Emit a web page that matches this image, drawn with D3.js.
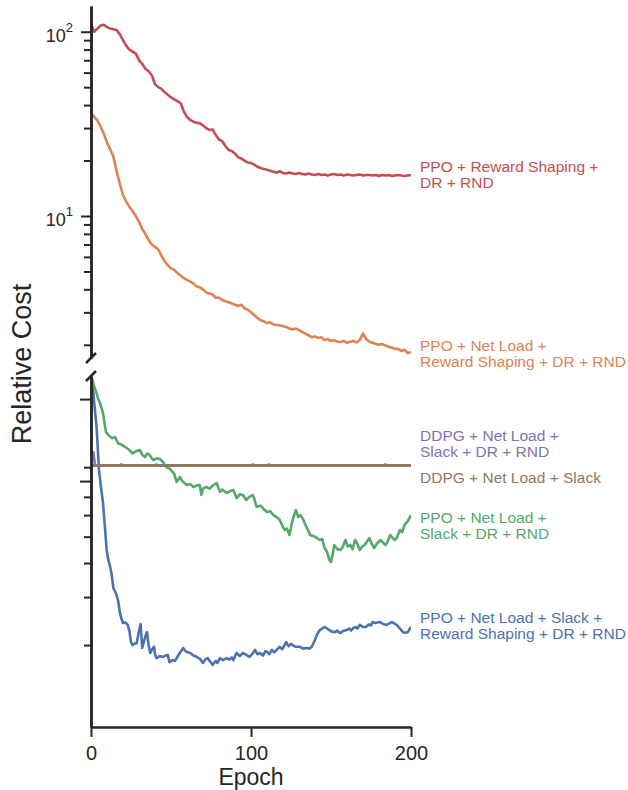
<!DOCTYPE html>
<html><head><meta charset="utf-8">
<script src="https://cdn.jsdelivr.net/npm/d3@7"></script>
<style>
body{margin:0;background:#fff}
text{font-family:"Liberation Sans",Arial,Helvetica,sans-serif}
</style>
</head><body>
<svg id="chart" width="628" height="790"></svg>
<script>
// ---------------- DATA ----------------
const seriesNames = [
  ["PPO + Reward Shaping +", "DR + RND"],
  ["PPO + Net Load +", "Reward Shaping + DR + RND"],
  ["DDPG + Net Load +", "Slack + DR + RND"],
  ["DDPG + Net Load + Slack"],
  ["PPO + Net Load +", "Slack + DR + RND"],
  ["PPO + Net Load + Slack +", "Reward Shaping + DR + RND"]
];
const colors = ["#c44e52", "#dd8452", "#8172b3", "#937860", "#55a868", "#4c72b0"];

// upper (log) panel series, sampled every 2 epochs
const epochs2 = d3.range(0, 201, 2);
const redValues = [110,100,104,108,109,106,104,103,102,97,90,84,80,78,76,70,67,63,61,58,
  52,50,49,47,45.5,44,43,42,41,37,34.5,33.2,32.5,32,31.9,31,30,29.3,29.5,27.5,
  26,25.5,24,22.8,22.5,21.8,20.8,20.5,20,19.5,19.4,19,18.5,18.2,18,17.8,17.6,17.4,17.2,17.5,
  17.1,17.0,17.2,17.0,16.9,17.1,16.9,16.8,17.0,16.8,16.7,16.9,16.7,16.8,16.6,16.8,16.9,16.7,16.8,16.6,
  16.8,16.7,16.6,16.7,16.8,16.6,16.7,16.7,16.6,16.7,16.5,16.7,16.6,16.7,16.5,16.6,16.7,16.6,16.5,16.6,16.7];
const orangeValues = [36,34.5,33,30.5,28,25,23,21,17.5,15,13,12,11.2,10.6,10,9.3,8.5,8,7.4,7,
  6.8,6.6,6.1,5.7,5.4,5.2,5.1,4.9,4.75,4.6,4.5,4.4,4.3,4.15,4.1,4.0,3.85,3.8,3.75,3.6,
  3.6,3.5,3.45,3.4,3.35,3.3,3.25,3.3,3.15,3.1,3.0,2.9,2.8,2.72,2.68,2.62,2.65,2.58,2.56,2.55,
  2.52,2.5,2.45,2.42,2.45,2.4,2.35,2.3,2.25,2.2,2.22,2.18,2.2,2.12,2.15,2.1,2.12,2.08,2.07,2.1,
  2.05,2.08,2.1,2.06,2.12,2.3,2.15,2.08,2.05,2.02,2.0,2.02,1.98,1.95,1.93,1.9,1.9,1.85,1.88,1.8,1.83];

// lower (log) panel series
const purpleEpochs = [0,1.5,2.5,18,19,20,40,41,42,100,101,102,110,111,112,183,184,185,200];
const purpleValues = [10.2,10.2,9.14,9.14,9.22,9.14,9.14,9.2,9.14,9.14,9.2,9.14,9.14,9.2,9.14,9.14,9.2,9.14,9.14];
const brownEpochs = [0,200];
const brownValues = [9.12,9.12];

const greenEpochs = [0,1,2,3.5,4.5,5.6,6.5,7.5,8.5,9.4,11,13,15,17,19,20,22,24,26,28,30.6,32,33.8,35,36.5,38,39,41,43,45,
  47,49,51,52,53.5,55.6,57,59.8,62,64,66,68,69,70,72,74,76,78.5,80.6,82,84.8,87,89,91,93,95,97,99,101,102,
  103.5,106,108,110,112,114,116,118,119.5,121,122.5,124,126,128,129.5,131,132.5,134,135.5,137,140,143,144.5,146,147.5,149,150,151,152,154,
  156,157.5,159,160.5,162,163.5,165,166.5,168,169.5,171,172.5,174,175.5,177,178.5,181,182.5,184,185.5,187,188.5,190,191.5,193,194.5,196,198,200];
const greenValues = [19.3,18.8,17.8,16.85,16.0,15.5,14.9,14.2,13.0,12.1,11.8,11.5,11.6,11.0,10.9,10.8,10.6,10.4,10.1,10.3,10.4,10.0,9.8,10.1,10.0,9.7,9.56,9.7,9.64,9.4,
  9.0,8.9,8.64,8.5,7.94,8.28,8.0,7.74,7.8,7.61,7.7,7.74,7.11,7.5,7.61,7.5,7.7,7.87,7.30,7.45,7.23,7.35,7.42,6.93,7.15,7.11,6.82,7.0,7.11,6.9,
  6.43,6.5,6.3,6.16,6.2,6.0,5.9,5.76,5.5,5.29,5.35,5.07,5.76,6.26,5.9,6.0,5.8,5.52,5.3,5.07,5.0,4.86,4.9,4.54,4.4,4.11,4.04,4.3,4.66,4.5,
  4.47,4.6,4.86,4.6,4.66,4.5,4.86,4.7,4.47,4.6,4.66,4.8,4.94,4.7,4.54,4.7,4.86,4.75,4.66,4.8,5.07,4.95,4.86,5.0,5.29,5.2,5.52,5.7,6.0];

const blueEpochs = [0,1,2,3.5,5,6,7.5,8.5,9.8,10.8,12,13,14,15,16,17,18,19,20,21.5,23,24,25,26,27,28.5,30,31,32,33,
  34,35,36,37,38,39.4,40,41,43,45,46.5,48,49,51,52.5,53.5,55,57.6,59,60.5,62,64,66,68,70,71.5,73,74.5,76,78,
  79,80.6,82.5,84.8,86.5,88,89,90,91,93,95,97,99,101,102.5,104,105.6,107.5,109,110,111.5,113,114.5,116,118,119.5,121,122,123.5,125,
  126,128,130.6,132.5,134.8,136.5,138,140,141.5,143,144.5,146,147.5,149,150.5,152.5,154,155.6,157.5,159.8,161.5,162.5,164,165.5,166.5,168,170,172,173.5,175,
  176,177.5,179,180.6,182.5,184.8,186.5,188,189.5,191,193,195,196.5,198,199,200];
const blueValues = [19.3,18.3,15.5,12.6,8.79,7.8,6.65,5.6,4.47,4.11,3.87,3.6,3.24,3.15,3.05,2.9,2.64,2.5,2.41,2.42,2.37,2.25,2.05,2.0,2.02,2.03,2.25,2.39,1.95,2.05,
  2.15,2.23,2.0,1.87,1.92,1.97,1.85,1.79,1.82,1.81,1.83,1.84,1.73,1.76,1.75,1.79,1.85,1.95,1.9,1.88,1.87,1.83,1.81,1.78,1.72,1.77,1.79,1.74,1.69,1.75,
  1.72,1.79,1.76,1.79,1.77,1.8,1.76,1.82,1.87,1.82,1.87,1.84,1.81,1.86,1.92,1.85,1.87,1.83,1.9,1.89,1.85,1.92,1.88,1.92,1.97,1.93,2.0,2.05,1.98,2.02,
  2.0,1.97,1.97,1.94,1.95,1.94,1.97,2.09,2.2,2.27,2.3,2.33,2.3,2.27,2.24,2.23,2.26,2.21,2.25,2.27,2.3,2.26,2.31,2.33,2.3,2.37,2.33,2.33,2.38,2.36,
  2.43,2.41,2.42,2.43,2.39,2.37,2.4,2.43,2.4,2.37,2.3,2.23,2.22,2.23,2.28,2.33];

const xTicks = [0, 100, 200];
const topMajorTicks = [10, 100];
const topMajorExp = ["1", "2"];
const topMinorTicks = [2,3,4,5,6,7,8,9,20,30,40,50,60,70,80,90];
const bottomMajorTicks = [8, 16];
const bottomMinorTicks = [2,3,4,5,6,7,9];

// ---------------- CHART ----------------
const svg = d3.select("#chart");
const ink = "#262626";
const FONT = '"Liberation Sans",Arial,Helvetica,sans-serif';

const x = d3.scaleLinear().domain([0, 200]).range([91, 411]);
const yTop = d3.scaleLog().domain([1.696, 137.9]).range([358, 6]);
const yBot = d3.scaleLog().domain([1, 19.45]).range([727, 376]);

const defs = svg.append("defs");
defs.append("clipPath").attr("id", "clipTop").append("rect")
  .attr("x", x(0)).attr("y", yTop.range()[1]).attr("width", x(200) - x(0)).attr("height", yTop.range()[0] - yTop.range()[1]);
defs.append("clipPath").attr("id", "clipBot").append("rect")
  .attr("x", x(0)).attr("y", yBot.range()[1]).attr("width", x(200) - x(0)).attr("height", yBot.range()[0] - yBot.range()[1]);

function drawLine(ex, vals, scale, color, clip, width) {
  const pts = ex.map((e, i) => [e, vals[i]]);
  svg.append("path")
    .datum(pts)
    .attr("clip-path", `url(#${clip})`)
    .attr("fill", "none")
    .attr("stroke", color)
    .attr("stroke-width", width)
    .attr("stroke-linejoin", "round")
    .attr("stroke-linecap", "butt")
    .attr("d", d3.line().x(d => x(d[0])).y(d => scale(d[1])));
}

drawLine(blueEpochs, blueValues, yBot, colors[5], "clipBot", 2.6);
drawLine(greenEpochs, greenValues, yBot, colors[4], "clipBot", 2.6);
drawLine(epochs2, redValues, yTop, colors[0], "clipTop", 2.6);
drawLine(epochs2, orangeValues, yTop, colors[1], "clipTop", 2.6);
drawLine(purpleEpochs, purpleValues, yBot, colors[2], "clipBot", 2.6);
drawLine(brownEpochs, brownValues, yBot, colors[3], "clipBot", 3);

// axes
function styleAxis(g, w) {
  g.select(".domain").attr("stroke", ink).attr("stroke-width", w);
  g.selectAll(".tick line").attr("stroke", ink).attr("stroke-width", 2);
}
const gTopMinor = svg.append("g").attr("transform", `translate(${x(0)},0)`)
  .call(d3.axisLeft(yTop).tickValues(topMinorTicks).tickSize(7).tickSizeOuter(0).tickFormat(""));
styleAxis(gTopMinor, 2.5);
const gTopMajor = svg.append("g").attr("transform", `translate(${x(0)},0)`)
  .call(d3.axisLeft(yTop).tickValues(topMajorTicks).tickSize(10).tickSizeOuter(0).tickFormat(""));
styleAxis(gTopMajor, 2.5);
topMajorTicks.forEach((v, i) => {
  const t = svg.append("text")
    .attr("x", x(0) - 18).attr("y", yTop(v) + 10.3)
    .attr("text-anchor", "end").attr("fill", ink).attr("font-size", 18);
  t.append("tspan").text("10");
  t.append("tspan").attr("dy", -10).attr("font-size", 13).text(topMajorExp[i]);
});

const gBotMinor = svg.append("g").attr("transform", `translate(${x(0)},0)`)
  .call(d3.axisLeft(yBot).tickValues(bottomMinorTicks).tickSize(7).tickSizeOuter(0).tickFormat(""));
styleAxis(gBotMinor, 2.5);
const gBotMajor = svg.append("g").attr("transform", `translate(${x(0)},0)`)
  .call(d3.axisLeft(yBot).tickValues(bottomMajorTicks).tickSize(11).tickSizeOuter(0).tickFormat(""));
styleAxis(gBotMajor, 2.5);

const gx = svg.append("g").attr("transform", `translate(0,${yBot.range()[0]})`)
  .call(d3.axisBottom(x).tickValues(xTicks).tickSize(10).tickSizeOuter(0).tickPadding(8.8));
styleAxis(gx, 2.5);
gx.selectAll(".tick text").attr("font-size", 20).attr("font-family", FONT).attr("fill", ink);

// break marks
[yTop.range()[0], yBot.range()[1]].forEach(yy => {
  svg.append("line")
    .attr("x1", x(0) - 5).attr("y1", yy + 5).attr("x2", x(0) + 5).attr("y2", yy - 5)
    .attr("stroke", ink).attr("stroke-width", 2.5);
});

// axis titles
svg.append("text").attr("x", x(100)).attr("y", 785)
  .attr("text-anchor", "middle").attr("font-size", 23).attr("fill", ink).text("Epoch");
svg.append("text").attr("transform", "translate(31,364) rotate(-90)")
  .attr("text-anchor", "middle").attr("font-size", 27).attr("fill", ink).text("Relative Cost");

// end labels
const labelBaselines = [171.7, 350.7, 440.7, 482.7, 523.3, 623.3];
seriesNames.forEach((lines, i) => {
  const t = svg.append("text").attr("x", 420).attr("y", labelBaselines[i])
    .attr("font-size", 15.5).attr("fill", colors[i]);
  lines.forEach((s, j) => {
    t.append("tspan").attr("x", 420).attr("dy", j === 0 ? 0 : 16).text(s);
  });
});
</script>
</body></html>
